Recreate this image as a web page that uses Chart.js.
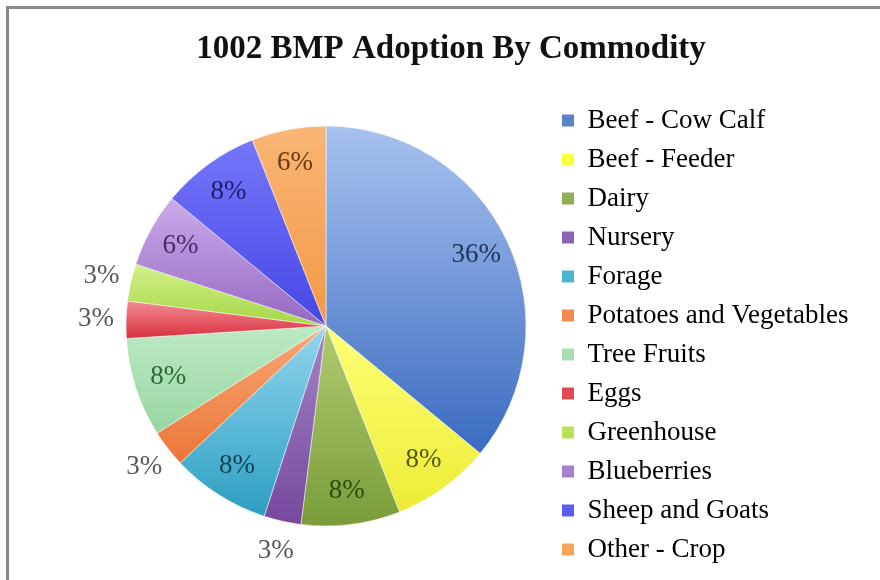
<!DOCTYPE html>
<html>
<head>
<meta charset="utf-8">
<script src="https://cdn.jsdelivr.net/npm/chart.js@4"></script>
<style>
  body { margin: 0; background: #fff; }
  #wrap { position: relative; width: 880px; height: 580px; }
  #frame { position: absolute; left: 6px; top: 6px; right: 0; bottom: 0;
           border-left: 3px solid #8a8a8a; border-top: 3px solid #8a8a8a; pointer-events: none; }
</style>
</head>
<body>
<div id="wrap">
  <canvas id="pieChart" width="880" height="580"></canvas>
  <div id="frame"></div>
</div>
<script>
const commodities = ['Beef - Cow Calf', 'Beef - Feeder', 'Dairy', 'Nursery', 'Forage',
  'Potatoes and Vegetables', 'Tree Fruits', 'Eggs', 'Greenhouse', 'Blueberries',
  'Sheep and Goats', 'Other - Crop'];
const shares = [36, 8, 8, 3, 8, 3, 8, 3, 3, 6, 8, 6];

// light (top) / dark (bottom) colour of each slice, plus a flat one for the legend
const lightColors = ['#a8c2ee', '#ffff78', '#b0cc72', '#a286c6', '#92d6f0', '#f8a878',
  '#bce9c4', '#f28c94', '#d2f088', '#cbacea', '#7676fa', '#f9b676'];
const darkColors = ['#3a6bc0', '#ecec34', '#7a9c3a', '#76489e', '#2c9ec0', '#ec7636',
  '#98d6a2', '#d8303e', '#a6d646', '#9468c2', '#4646e6', '#f39844'];
const legendColors = ['#5a80c8', '#ffff3c', '#8fae52', '#8a64b0', '#4cb4d2', '#f08a50',
  '#a9dfb2', '#e04a56', '#b8e258', '#a482d0', '#5c5cf0', '#f6a45a'];
const labelColors = ['#1f3560', '#55550c', '#2b4a0e', '#4a2a6a', '#153f55', '#6a3310',
  '#2a6a32', '#6a1018', '#4a6a10', '#4a2a6a', '#1c1c6a', '#6a3a10'];

const PIE_RADIUS = 200;

function sliceGradient(ctx) {
  const chart = ctx.chart;
  const ca = chart.chartArea;
  const i = ctx.dataIndex;
  if (!ca || i === undefined) return legendColors[i] || '#ccc';
  const cx = (ca.left + ca.right) / 2;
  const cy = (ca.top + ca.bottom) / 2;
  const r = PIE_RADIUS;
  const total = shares.reduce((a, b) => a + b, 0);
  let before = 0;
  for (let k = 0; k < i; k++) before += shares[k];
  const a0 = -Math.PI / 2 + before / total * 2 * Math.PI;
  const a1 = a0 + shares[i] / total * 2 * Math.PI;
  let ys = [cy, cy + Math.sin(a0) * r, cy + Math.sin(a1) * r];
  [-Math.PI / 2, Math.PI / 2, 3 * Math.PI / 2].forEach(a => {
    if (a >= a0 && a <= a1) ys.push(cy + Math.sin(a) * r);
  });
  const g = chart.ctx.createLinearGradient(0, Math.min(...ys), 0, Math.max(...ys));
  g.addColorStop(0, lightColors[i]);
  g.addColorStop(1, darkColors[i]);
  return g;
}

const pctLabels = {
  id: 'pctLabels',
  afterDatasetsDraw(chart) {
    const ctx = chart.ctx;
    const meta = chart.getDatasetMeta(0);
    ctx.save();
    ctx.font = '27px "Liberation Serif", serif';
    ctx.textAlign = 'center';
    ctx.textBaseline = 'middle';
    meta.data.forEach((arc, i) => {
      const p = arc.getProps(['x', 'y', 'startAngle', 'endAngle', 'outerRadius'], true);
      const mid = (p.startAngle + p.endAngle) / 2;
      const outside = shares[i] < 5;
      const r = p.outerRadius * (outside ? 1.15 : 0.83);
      ctx.fillStyle = outside ? '#595959' : labelColors[i];
      ctx.fillText(shares[i] + '%', p.x + Math.cos(mid) * r, p.y + Math.sin(mid) * r);
    });
    ctx.restore();
  }
};

const config = {
  type: 'pie',
  data: {
    labels: commodities,
    datasets: [{
      data: shares,
      radius: PIE_RADIUS,
      backgroundColor: sliceGradient,
      borderColor: 'rgba(255,255,255,0.5)',
      borderWidth: 1
    }]
  },
  options: {
    responsive: false,
    animation: false,
    layout: { padding: { left: 51, right: 29, top: 0, bottom: 5 } },
    plugins: {
      title: {
        display: true,
        text: '1002 BMP Adoption By Commodity',
        color: '#111',
        font: { family: '"Liberation Serif", serif', size: 33, weight: 'bold' },
        padding: { top: 30, bottom: 7.4 }
      },
      subtitle: {
        // empty spacer left of the pie
        display: true,
        text: '',
        position: 'left',
        font: { size: 10 },
        padding: { top: 0, bottom: 39 }
      },
      legend: {
        position: 'right',
        align: 'end',
        maxWidth: 301,
        labels: {
          boxWidth: 12,
          boxHeight: 12,
          padding: 12,
          color: '#1a1a1a',
          font: { family: '"Liberation Serif", serif', size: 27 },
          generateLabels: (chart) => commodities.map((name, i) => ({
            text: name,
            fillStyle: legendColors[i],
            strokeStyle: legendColors[i],
            lineWidth: 0,
            hidden: false,
            index: i
          }))
        }
      },
      tooltip: { enabled: false }
    }
  },
  plugins: [pctLabels]
};

const myChart = new Chart(document.getElementById('pieChart').getContext('2d'), config);
</script>
</body>
</html>
